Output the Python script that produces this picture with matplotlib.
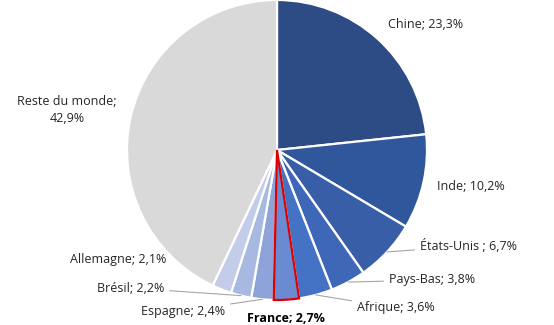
import matplotlib.pyplot as plt
import numpy as np

# Parts (%), in pie order starting at 12 o'clock, clockwise
pays = ['Chine', 'Inde', 'États-Unis ', 'Pays-Bas', 'Afrique', 'France',
        'Espagne', 'Brésil', 'Allemagne', 'Reste du monde']
parts = [23.3, 10.2, 6.7, 3.8, 3.6, 2.7, 2.4, 2.2, 2.1, 42.9]

couleurs = ['#2D4B84', '#30569C', '#385EA8', '#3E67B8', '#4472C4',
            '#6A8BD2', '#8DA3D9', '#A7B8E1', '#C3CDEA', '#D9D9D9']

# label placement in pixels (x, y from top), alignment, leader line?
places = {
    'Chine': (388, 24, 'left', False),
    'Inde': (437, 186, 'left', False),
    'États-Unis ': (420, 246, 'left', True),
    'Pays-Bas': (389, 280, 'left', True),
    'Afrique': (357, 308, 'left', True),
    'France': (247, 318, 'left', False),
    'Espagne': (225, 311, 'right', True),
    'Brésil': (164, 288, 'right', True),
    'Allemagne': (166, 260, 'right', False),
    'Reste du monde': (67, 110, 'center', False),
}

W, H = 554, 325
fig = plt.figure(figsize=(W / 100, H / 100), dpi=100)
ax = fig.add_axes([0, 0, 1, 1])

cx, cy, r = 277, H - 150, 150
wedges, _ = ax.pie(parts, colors=couleurs, startangle=90, counterclock=False,
                   center=(cx, cy), radius=r, frame=True,
                   wedgeprops=dict(edgecolor='white', linewidth=1.6))
ax.set_xlim(0, W)
ax.set_ylim(0, H)
ax.set_aspect('equal')
ax.axis('off')

i_fr = pays.index('France')
wedges[i_fr].set_edgecolor('#E00000')
wedges[i_fr].set_linewidth(1.6)
wedges[i_fr].set_zorder(5)

plt.rcParams['font.family'] = ['Open Sans', 'DejaVu Sans']

for w, nom, v in zip(wedges, pays, parts):
    x, y, ha, ligne = places[nom]
    y = H - y
    val = f'{v:.1f}%'.replace('.', ',')
    if nom == 'Reste du monde':
        txt = f'{nom};\n{val}'
    else:
        txt = f'{nom}; {val}'
    poids = 'bold' if nom == 'France' else 'normal'
    coul = '#000000' if nom == 'France' else '#262626'
    if ligne:
        ang = np.deg2rad((w.theta1 + w.theta2) / 2)
        px, py = cx + r * np.cos(ang), cy + r * np.sin(ang)
        ax.annotate(txt, xy=(px, py), xytext=(x, y), ha=ha, va='center',
                    fontsize=9, color=coul, fontweight=poids,
                    arrowprops=dict(arrowstyle='-', color='#A6A6A6', lw=0.8,
                                    shrinkA=2, shrinkB=0))
    else:
        ax.text(x, y, txt, ha=ha, va='center', fontsize=9, color=coul,
                fontweight=poids, linespacing=1.45)

fig.savefig('out.png', dpi=100)
